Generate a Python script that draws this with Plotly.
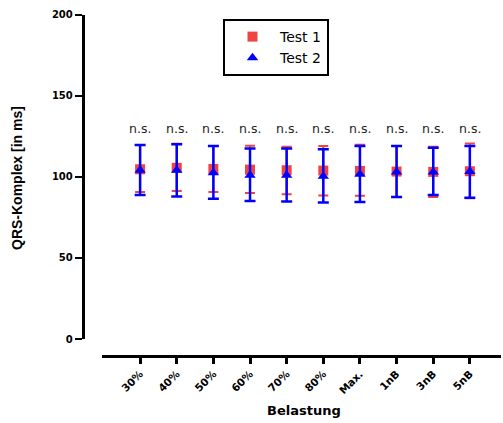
import plotly.graph_objects as go

categories = ["30%", "40%", "50%", "60%", "70%", "80%", "Max.", "1nB", "3nB", "5nB"]

test1_mean = [104.6, 105.5, 104.8, 104.4, 104.0, 103.8, 103.6, 103.2, 103.0, 103.4]
test1_upper = [119.5, 120.3, 118.9, 119.1, 118.5, 119.0, 119.7, 118.9, 118.5, 120.5]
test1_lower = [90.6, 91.2, 90.6, 90.0, 89.2, 88.5, 88.3, 87.5, 87.5, 86.7]

test2_mean = [104.0, 104.0, 102.4, 100.9, 101.0, 100.3, 101.5, 103.0, 103.0, 103.2]
test2_upper = [119.5, 120.0, 119.0, 117.4, 117.4, 117.0, 119.0, 118.9, 117.9, 118.9]
test2_lower = [88.7, 87.9, 86.5, 85.0, 84.8, 84.2, 84.4, 87.5, 88.8, 87.1]

sig_labels = ["n.s."] * len(categories)
sig_y = 130

y_ticks = [0, 50, 100, 150, 200]

W, H = 503, 423
RED = "#f04444"
BLUE = "#0000ff"


def px_x(p):
    return p / W


def px_y(p):
    return 1 - p / H


fig = go.Figure()
fig.add_trace(go.Scatter(
    x=categories, y=test1_mean, mode="markers", name="Test 1",
    marker=dict(symbol="square", size=10, color=RED),
    error_y=dict(type="data", symmetric=False,
                 array=[u - m for u, m in zip(test1_upper, test1_mean)],
                 arrayminus=[m - l for m, l in zip(test1_mean, test1_lower)],
                 color=RED, thickness=2, width=5),
    cliponaxis=False,
))
fig.add_trace(go.Scatter(
    x=categories, y=test2_mean, mode="markers", name="Test 2",
    marker=dict(symbol="triangle-up", size=10, color=BLUE),
    error_y=dict(type="data", symmetric=False,
                 array=[u - m for u, m in zip(test2_upper, test2_mean)],
                 arrayminus=[m - l for m, l in zip(test2_mean, test2_lower)],
                 color=BLUE, thickness=2.5, width=5.5),
    cliponaxis=False,
))

for c, t in zip(categories, sig_labels):
    fig.add_annotation(x=c, y=sig_y, xref="x", yref="y", text=t, showarrow=False,
                       xanchor="center", yanchor="middle",
                       font=dict(family="DejaVu Sans", size=12.5, color="#222"))

fig.add_annotation(x=px_x(17), y=px_y(178), xref="paper", yref="paper",
                   text="QRS-Komplex [in ms]", textangle=-90, showarrow=False,
                   xanchor="center", yanchor="middle",
                   font=dict(family="Liberation Sans", size=14, color="black", weight="bold"))
fig.add_annotation(x=px_x(304), y=px_y(410), xref="paper", yref="paper",
                   text="Belastung", showarrow=False,
                   xanchor="center", yanchor="middle",
                   font=dict(family="DejaVu Sans", size=13, color="black", weight="bold"))

fig.update_layout(
    width=W, height=H,
    margin=dict(l=0, r=0, t=0, b=0, pad=0, autoexpand=False),
    paper_bgcolor="white", plot_bgcolor="white",
    showlegend=True,
    legend=dict(x=px_x(223), y=px_y(19), xanchor="left", yanchor="top",
                bordercolor="black", borderwidth=2, bgcolor="white",
                font=dict(family="DejaVu Sans", size=14, color="black"),
                itemwidth=45, tracegroupgap=0),
    xaxis=dict(
        type="category", categoryorder="array", categoryarray=categories,
        domain=[px_x(102), px_x(501)], range=[-1.04, 9.85],
        anchor="free", position=px_y(356),
        showline=True, linecolor="black", linewidth=2.5,
        ticks="outside", ticklen=6, tickwidth=2.5, tickcolor="black",
        tickangle=-45, showgrid=False, zeroline=False,
        tickfont=dict(family="DejaVu Sans", size=10.5, color="black", weight="bold"),
    ),
    yaxis=dict(
        domain=[px_y(339), px_y(14.5)], range=[0, 200],
        anchor="free", position=px_x(82.5),
        tickvals=y_ticks, ticktext=[str(v) for v in y_ticks],
        showline=True, linecolor="black", linewidth=2.5,
        ticks="outside", ticklen=7, tickwidth=2, tickcolor="black",
        showgrid=False, zeroline=False,
        tickfont=dict(family="DejaVu Sans", size=10, color="black", weight="bold"),
    ),
)

fig.write_html("out.html")
